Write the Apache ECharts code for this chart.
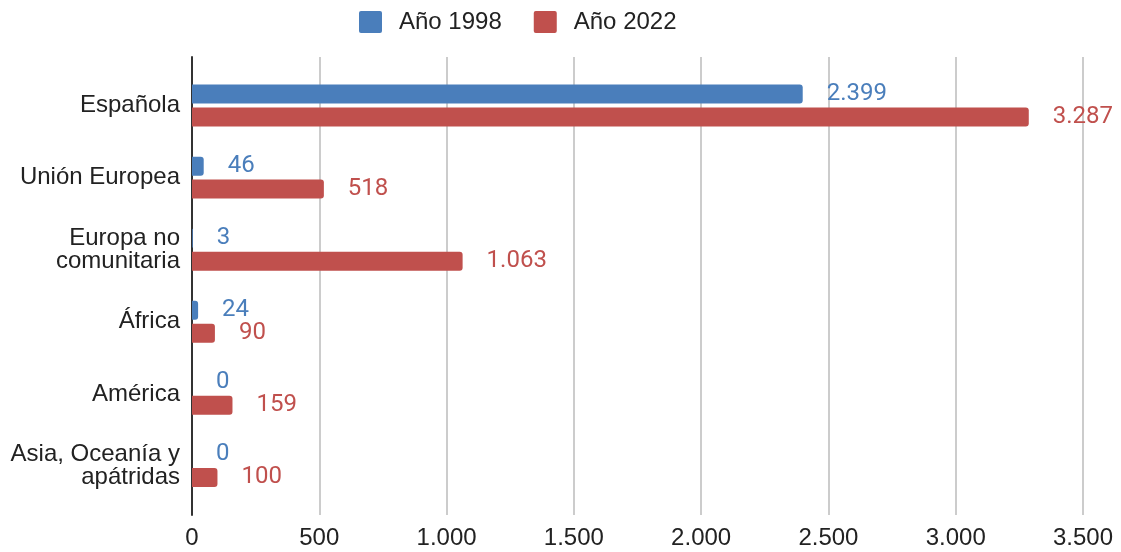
<!DOCTYPE html>
<html><head><meta charset="utf-8">
<script src="https://cdn.jsdelivr.net/npm/echarts@6/dist/echarts.min.js"></script>
<style>html,body{margin:0;padding:0;background:#fff}#c{width:1121px;height:552px}</style>
</head><body><div id="c"></div>
<script>
var categories = ['Española', 'Unión Europea', 'Europa no\ncomunitaria', 'África', 'América', 'Asia, Oceanía y\napátridas'];
var seriesNames = ['Año 1998', 'Año 2022'];
var values1998 = [2399, 46, 3, 24, 0, 0];
var values2022 = [3287, 518, 1063, 90, 159, 100];
var xTicks = { min: 0, max: 3500, interval: 500 };
var colors = ['#4a7ebb', '#c0504d'];

var SANS = "'Liberation Sans', Arial, sans-serif";
function fmt(v) {
  return String(Math.round(v)).replace(/\B(?=(\d{3})+(?!\d))/g, '.');
}

var chart = echarts.init(document.getElementById('c'));
function barSeries(name, data, color) {
  return {
    name: name, type: 'bar', xAxisIndex: 1, yAxisIndex: 1,
    data: data, barWidth: 19, barGap: '21%',
    itemStyle: { color: color, borderRadius: [0, 3, 3, 0] },
    label: {
      show: true, position: 'right', distance: 24, color: color,
      fontFamily: 'Roboto', fontSize: 24,
      formatter: function (p) { return fmt(p.value); }
    }
  };
}
chart.setOption({
  animation: false,
  color: colors,
  legend: {
    top: 10, left: 359, padding: 0, itemWidth: 23, itemHeight: 22, itemGap: 32,
    icon: 'path://M2,0 L21,0 Q23,0 23,2 L23,20 Q23,22 21,22 L2,22 Q0,22 0,20 L0,2 Q0,0 2,0 Z',
    textStyle: { fontFamily: SANS, fontSize: 24, color: '#222', padding: [0, 0, 0, 12] },
    data: seriesNames
  },
  grid: [
    { left: 192, right: 38, top: 57, bottom: 37 },
    { left: 192, right: 38, top: 69.5, bottom: 50 }
  ],
  xAxis: [
    {
      gridIndex: 0, type: 'value', min: xTicks.min, max: xTicks.max, interval: xTicks.interval,
      axisLine: { show: false }, axisTick: { show: false },
      splitLine: { show: true, lineStyle: { color: '#cccccc', width: 2 } },
      axisLabel: { margin: 11, fontFamily: SANS, fontSize: 24, color: '#222', formatter: fmt }
    },
    {
      gridIndex: 1, type: 'value', min: xTicks.min, max: xTicks.max, interval: xTicks.interval,
      show: false
    }
  ],
  yAxis: [
    {
      gridIndex: 0, type: 'value', min: 0, max: 1,
      axisLine: { show: true, lineStyle: { color: '#333', width: 2 } },
      axisTick: { show: false }, axisLabel: { show: false }, splitLine: { show: false }
    },
    {
      gridIndex: 1, type: 'category', data: categories, inverse: true,
      axisLine: { show: false }, axisTick: { show: false },
      axisLabel: { margin: 12, fontFamily: SANS, fontSize: 24, lineHeight: 23, color: '#222' }
    }
  ],
  series: [
    barSeries(seriesNames[0], values1998, colors[0]),
    barSeries(seriesNames[1], values2022, colors[1])
  ]
});
</script></body></html>
